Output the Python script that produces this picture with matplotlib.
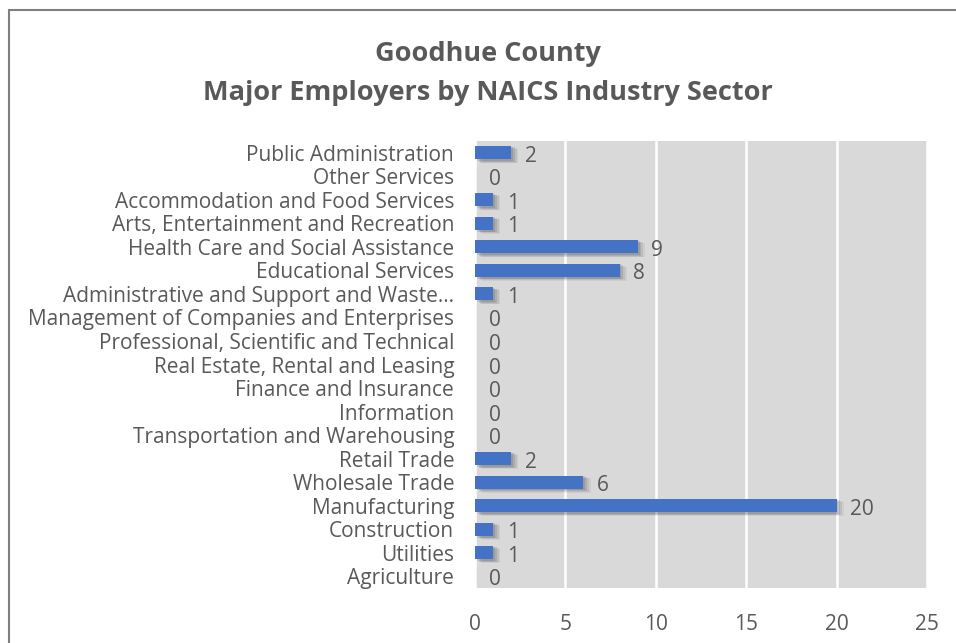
import matplotlib.pyplot as plt
from matplotlib.patches import Rectangle

sectors = [
    "Agriculture", "Utilities", "Construction", "Manufacturing", "Wholesale Trade",
    "Retail Trade", "Transportation and Warehousing", "Information",
    "Finance and Insurance", "Real Estate, Rental and Leasing",
    "Professional, Scientific and Technical", "Management of Companies and Enterprises",
    "Administrative and Support and Waste...", "Educational Services",
    "Health Care and Social Assistance", "Arts, Entertainment and Recreation",
    "Accommodation and Food Services", "Other Services", "Public Administration",
]
employers = [0, 1, 1, 20, 6, 2, 0, 0, 0, 0, 0, 0, 1, 8, 9, 1, 1, 0, 2]
x_ticks = [0, 5, 10, 15, 20, 25]

plt.rcParams['font.family'] = ['Open Sans', 'DejaVu Sans']
text_gray = "#595959"

fig = plt.figure(figsize=(9.56, 6.43), dpi=100)
# chart frame (extends past right/bottom edges like the cropped screenshot)
fig.patches.append(Rectangle((9 / 956, -0.05), 1.2, (643 - 10) / 643 + 0.05,
                             transform=fig.transFigure, fill=False,
                             edgecolor="#7f7f7f", linewidth=1.5))

ax = fig.add_axes([475 / 956, 55 / 643, 452 / 956, 447 / 643])
ax.set_facecolor("#d9d9d9")

y_pos = list(range(len(sectors)))
bar_h = 0.55
# soft shadow behind bars
for dx, dy, a in [(0.4, -0.14, 0.05), (0.3, -0.11, 0.07), (0.2, -0.08, 0.09), (0.1, -0.05, 0.1)]:
    ax.barh([y + dy for y in y_pos], employers, left=[dx if v > 0 else 0 for v in employers],
            height=bar_h + 0.06, color="black", alpha=a, linewidth=0, zorder=2)
ax.barh(y_pos, employers, height=bar_h, color="#4472c4", zorder=3)

for y, v in zip(y_pos, employers):
    ax.text(v + 0.75 if v > 0 else 0.8, y - 0.15, str(v), va="center", ha="left",
            fontsize=15, color=text_gray, zorder=4)

ax.set_xlim(0, 25)
ax.set_ylim(-0.5, len(sectors) - 0.5)
ax.set_xticks(x_ticks)
ax.set_yticks(y_pos)
ax.set_yticklabels(sectors)
ax.tick_params(axis="y", length=0, pad=15, labelsize=15, labelcolor=text_gray)
ax.tick_params(axis="x", length=0, pad=19, labelsize=15, labelcolor=text_gray)
ax.xaxis.grid(True, color="white", linewidth=1.8, zorder=1)
ax.set_axisbelow(True)
for s in ax.spines.values():
    s.set_visible(False)

fig.text(488 / 956, 1 - 54 / 643, "Goodhue County", ha="center", va="center",
         fontsize=19.5, fontweight="bold", color=text_gray)
fig.text(488 / 956, 1 - 93 / 643, "Major Employers by NAICS Industry Sector", ha="center",
         va="center", fontsize=19.5, fontweight="bold", color=text_gray)

fig.savefig("out.png", dpi=100)
